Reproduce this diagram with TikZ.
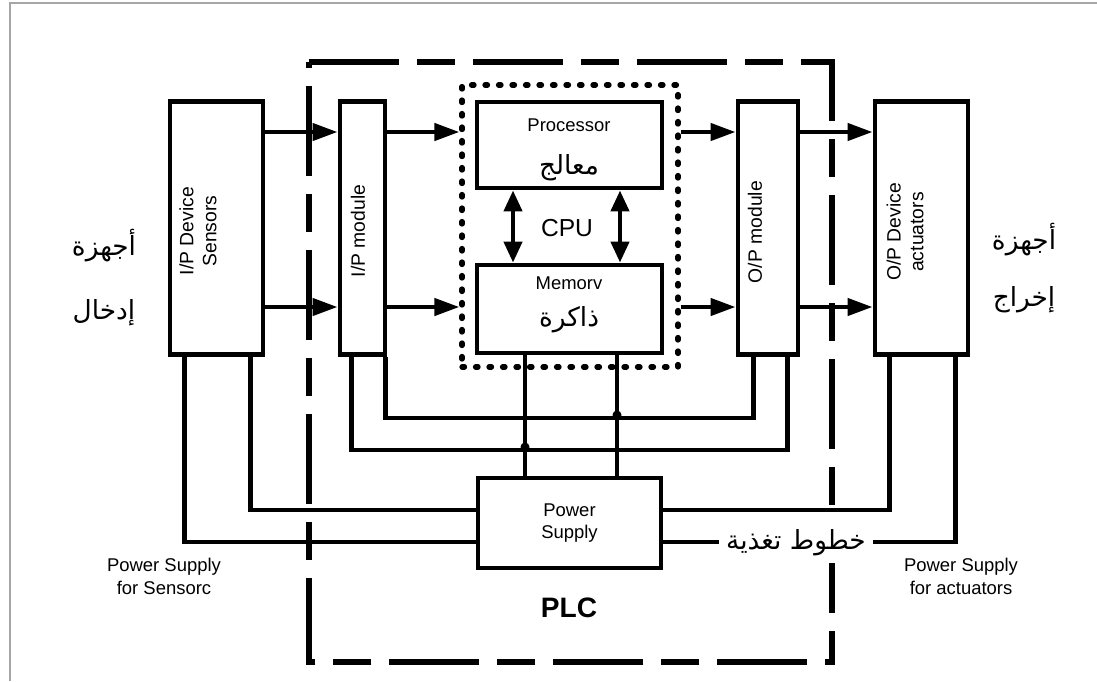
\documentclass[tikz,border=0pt]{standalone}
\usepackage{fontspec}
\setmainfont{Liberation Sans}
\newfontfamily\arabicfont[Script=Arabic]{DejaVu Sans}
\TeXXeTstate=1
\usetikzlibrary{arrows.meta, positioning, calc}

\tikzstyle{device} = [
    rectangle,
    draw=black,
    line width=2.8pt,
    minimum width=1.86cm,
    minimum height=5.06cm
]
\tikzstyle{module} = [
    rectangle,
    draw=black,
    line width=2.8pt,
    minimum height=5.06cm
]
\tikzstyle{unit} = [
    rectangle,
    draw=black,
    line width=2.8pt,
    minimum width=3.7cm,
    inner sep=0pt
]
\tikzstyle{cpuframe} = [
    rectangle,
    draw=black,
    line width=3pt,
    line cap=round,
    dash pattern=on 0.05cm off 0.22cm
]
\tikzstyle{plcframe} = [
    line width=3.4pt,
    dash pattern=on 1.8cm off 0.36cm on 0.76cm off 0.36cm
]
\tikzstyle{vtext} = [
    rotate=90,
    align=center,
    font=\fontsize{11}{13}\selectfont
]
\tikzstyle{etext} = [
    align=center,
    font=\fontsize{10.5}{13}\selectfont
]
\tikzstyle{atext} = [
    font=\arabicfont\fontsize{15}{18}\selectfont
]
\tikzstyle{wire} = [
    line width=2.5pt
]
\tikzstyle{flow} = [
    -{Triangle[length=0.5cm, width=0.34cm]},
    line width=2.5pt
]
\tikzstyle{bidir} = [
    {Triangle[length=0.42cm, width=0.36cm]}-{Triangle[length=0.42cm, width=0.36cm]},
    line width=2.5pt
]

\begin{document}
\begin{tikzpicture}[x=0.02cm, y=-0.02cm]
        \useasboundingbox (0,0) rectangle (1097,681);
        \draw[gray!70, line width=0.6pt] (10,681) -- (10,3) -- (1097,3);

        % PLC frame
        \draw[plcframe] (309,62) -- (832,62) -- (832,662) -- (309,662) -- cycle;

        % Field devices and modules
        \node[device] (sens) at (216.5,228) {};
        \node[module, minimum width=0.9cm] (ipm) at (362.5,228) {};
        \node[module, minimum width=1.2cm] (opm) at (768,228) {};
        \node[device] (act) at (921.5,228) {};

        \node[vtext] (sensT) at (198,231) {I/P Device\\Sensors};
        \node[vtext] (ipmT) at (358,231) {I/P module};
        \node[vtext] (opmT) at (755,232) {O/P module};
        \node[vtext] (actT) at (905,232) {O/P Device\\actuators};

        % CPU
        \node[cpuframe, minimum width=4.32cm, minimum height=5.64cm] (cpu) at (570,226) {};
        \node[unit, minimum height=1.72cm] (proc) at (569.5,145) {};
        \node[unit, minimum height=1.76cm] (mem) at (569.5,309) {};

        \node[etext] (procT) at (569,125) {Processor};
        \node[atext] (procA) at (569,168) {\beginR معالج\endR};
        \node[etext] (memT) at (569,283) {Memorv};
        \node[atext] (memA) at (569,320) {\beginR ذاكرة\endR};
        \node[font=\fontsize{14}{16}\selectfont] (cpuT) at (567,228) {CPU};

        \draw[bidir] ([xshift=-1.13cm]proc.south) -- ([xshift=-1.13cm]mem.north);
        \draw[bidir] ([xshift=1.01cm]proc.south) -- ([xshift=1.01cm]mem.north);

        % Power supply
        \node[unit, etext, minimum height=1.8cm, minimum width=3.66cm] (ps) at (569.5,523) {Power\\Supply};

        % Signal arrows
        \coordinate (rowA) at (0,132);
        \coordinate (rowB) at (0,307);
        \foreach \r in {rowA,rowB} {
            \draw[flow] (sens.east |- \r) -- (ipm.west |- \r);
            \draw[flow] (ipm.east |- \r) -- (cpu.west |- \r);
            \draw[flow] (cpu.east |- \r) -- (opm.west |- \r);
            \draw[flow] (opm.east |- \r) -- (act.west |- \r);
        }

        % Supply wiring
        \draw[wire] ([xshift=-0.04cm]ipm.south east) -- ++(0,61) -| ([xshift=0.36cm]opm.south west);
        \draw[wire] ([xshift=0.28cm]ipm.south west) -- ++(0,93) -| ([xshift=-0.26cm]opm.south east);
        \draw[wire] ([xshift=-0.89cm]mem.south) -- ([xshift=-0.89cm]ps.north);
        \draw[wire] ([xshift=0.95cm]mem.south) -- ([xshift=0.95cm]ps.north);
        \fill (525,447) circle (0.09cm);
        \fill (617,415) circle (0.09cm);

        \draw[wire] ([xshift=0.34cm]sens.south west) |- ([yshift=-0.38cm]ps.west);
        \draw[wire] ([xshift=-0.3cm]sens.south east) |- ([yshift=0.26cm]ps.west);
        \draw[wire] ([xshift=0.34cm]act.south west) |- ([yshift=0.26cm]ps.east);
        \draw[wire] ([xshift=-0.3cm]act.south east) |- ([yshift=-0.38cm]ps.east);
        \node[atext, fill=white, inner sep=4pt] (feed) at (796,543) {\beginR خطوط تغذية\endR};

        % Labels
        \node[atext] (inA) at (104,246) {\beginR أجهزة\endR};
        \node[atext] (inB) at (104,313) {\beginR إدخال\endR};
        \node[atext] (outA) at (1024,240) {\beginR أجهزة\endR};
        \node[atext] (outB) at (1024,300) {\beginR إخراج\endR};
        \node[etext] (psSens) at (164,576) {Power Supply\\for Sensorc};
        \node[etext] (psAct) at (961,576) {Power Supply\\for actuators};
        \node[font=\fontsize{16}{19}\selectfont\bfseries] (plcT) at (569,608) {PLC};
    \end{tikzpicture}
\end{document}
